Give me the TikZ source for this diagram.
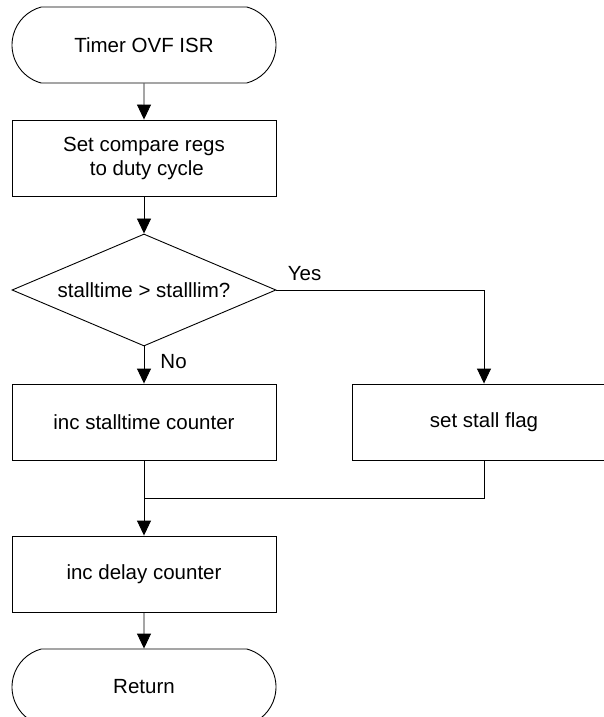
\documentclass[tikz,border=0pt]{standalone}
\usepackage{fontspec}
\setmainfont{Liberation Sans}
\usetikzlibrary{shapes.geometric,shapes.misc,arrows.meta}

\begin{document}
\begin{tikzpicture}[x=1pt,y=-1pt,
	every node/.style={font=\fontsize{20.5}{24}\selectfont},
	term/.style={rounded rectangle,rounded rectangle arc length=150,draw,line width=0.9pt,minimum width=264pt,minimum height=76pt,inner sep=0pt},
	proc/.style={rectangle,draw,line width=0.9pt,minimum width=264pt,minimum height=76pt,align=center,inner sep=0pt},
	cond/.style={diamond,draw,line width=0.9pt,aspect=2.36,minimum width=264pt,minimum height=112pt,inner sep=0pt},
	flow/.style={-{Triangle[length=15pt,width=14pt]},line width=0.9pt},
	lbl/.style={inner sep=0pt}]
	\useasboundingbox (0,0) rectangle (604,717);
	\clip (0,0) rectangle (604,717);
	
	%blocks
	\node[term] (isr)  at (144,45)  {Timer OVF ISR};
	\node[proc] (cmp)  at (144,158) {Set compare regs\\\hspace*{5.7pt}to duty cycle};
	\node[cond] (chk)  at (144,290) {stalltime > stalllim?};
	\node[proc] (inc)  at (144,422) {inc stalltime counter};
	\node[proc] (flag) at (484,422) {set stall flag};
	\node[proc] (dly)  at (144,574) {inc delay counter};
	\node[term] (ret)  at (144,687) {Return};
	\coordinate (join) at (144,498);
	
	%arrows
	\draw[flow] (isr) -- (cmp);
	\draw[flow] (cmp) -- (chk);
	\draw[flow] (chk) -- node[lbl,pos=0.42,right=16pt] {No} (inc);		%no branch
	\draw[flow] (chk.east) -| node[lbl,pos=0,anchor=south west,xshift=11pt,yshift=9pt] {Yes} (flag);	%yes branch
	\draw[line width=0.9pt] (flag) |- (join);
	\draw[flow] (inc) -- (dly);
	\draw[flow] (dly) -- (ret);
\end{tikzpicture}
\end{document}
